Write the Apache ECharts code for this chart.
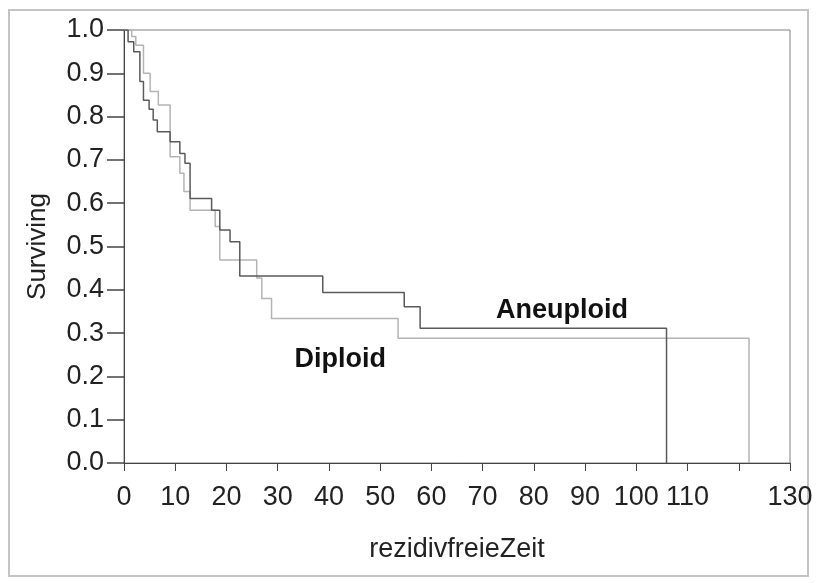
<!DOCTYPE html>
<html>
<head>
<meta charset="utf-8">
<script src="https://cdn.jsdelivr.net/npm/echarts@6/dist/echarts.min.js"></script>
<style>
  html, body { margin: 0; padding: 0; background: #fff; }
  #chart { width: 817px; height: 583px; }
</style>
</head>
<body>
<div id="chart"></div>
<script>
// Kaplan-Meier estimates: [time, surviving fraction after the event]
const aneuploid = [
  [0, 1.0], [0.8, 0.973], [1.9, 0.95], [3.1, 0.881], [3.8, 0.838], [4.9, 0.817],
  [5.7, 0.792], [6.5, 0.765], [9.0, 0.742], [10.9, 0.715], [11.9, 0.692],
  [12.9, 0.611], [17.1, 0.584], [18.7, 0.538], [20.7, 0.511], [22.6, 0.432],
  [38.8, 0.394], [54.7, 0.361], [57.8, 0.311], [105.9, 0.0]
];
const diploid = [
  [0, 1.0], [1.5, 0.985], [2.3, 0.965], [3.8, 0.90], [5.1, 0.858], [6.7, 0.827],
  [9.0, 0.707], [10.9, 0.669], [11.7, 0.627], [12.9, 0.584], [17.8, 0.546],
  [18.7, 0.469], [25.9, 0.427], [26.9, 0.380], [28.8, 0.334], [53.5, 0.288],
  [122.0, 0.0]
];
const groupNames = ['Aneuploid', 'Diploid'];
const groupLabelAt = [[85.5, 0.351], [42.2, 0.240]];
const hiddenXLabels = [120];

const chart = echarts.init(document.getElementById('chart'), null, { renderer: 'canvas' });
const font = 'Liberation Sans, Arial, sans-serif';

// Curve name written beside its line, anchored in data coordinates
function groupLabel(name, coord) {
  return {
    symbol: 'circle',
    symbolSize: 1,
    silent: true,
    itemStyle: { color: 'rgba(0,0,0,0)' },
    data: [{
      coord: coord,
      label: {
        show: true, position: 'inside', formatter: name,
        fontFamily: font, fontSize: 27, fontWeight: 'bold', color: '#111'
      }
    }]
  };
}

chart.setOption({
  animation: false,
  backgroundColor: '#fff',
  graphic: [{
    type: 'rect',
    shape: { x: 9, y: 10, width: 799, height: 566 },
    style: { fill: 'none', stroke: '#c4c4c4', lineWidth: 2 },
    silent: true
  }],
  grid: {
    left: 124, top: 30, width: 666, height: 433,
    show: true, borderColor: '#808080', borderWidth: 1, backgroundColor: 'transparent'
  },
  xAxis: {
    type: 'value', min: 0, max: 130, interval: 10,
    name: 'rezidivfreieZeit', nameLocation: 'middle', nameGap: 73,
    nameTextStyle: { fontFamily: font, fontSize: 27, color: '#222' },
    axisLine: { show: true, lineStyle: { color: '#444', width: 1 } },
    axisTick: { show: true, length: 8, lineStyle: { color: '#444' } },
    axisLabel: {
      fontFamily: font, fontSize: 27, color: '#222', margin: 21,
      formatter: v => hiddenXLabels.includes(v) ? '' : String(v)
    },
    splitLine: { show: false }
  },
  yAxis: {
    type: 'value', min: 0, max: 1, interval: 0.1,
    name: 'Surviving', nameLocation: 'middle', nameGap: 73, nameRotate: 90,
    nameTextStyle: { fontFamily: font, fontSize: 26, color: '#222' },
    axisLine: { show: true, lineStyle: { color: '#444', width: 1 } },
    axisTick: { show: true, length: 17, lineStyle: { color: '#444', width: 1.5 } },
    axisLabel: {
      fontFamily: font, fontSize: 27, color: '#222', margin: 20,
      formatter: v => v.toFixed(1)
    },
    splitLine: { show: false }
  },
  series: [
    {
      name: groupNames[0], type: 'line', step: 'end', data: aneuploid,
      symbol: 'none', lineStyle: { color: '#5a5a5a', width: 1.5 },
      markPoint: groupLabel(groupNames[0], groupLabelAt[0]),
      z: 3
    },
    {
      name: groupNames[1], type: 'line', step: 'end', data: diploid,
      symbol: 'none', lineStyle: { color: '#b4b4b4', width: 1.5 },
      markPoint: groupLabel(groupNames[1], groupLabelAt[1]),
      z: 2
    }
  ]
});
</script>
</body>
</html>
